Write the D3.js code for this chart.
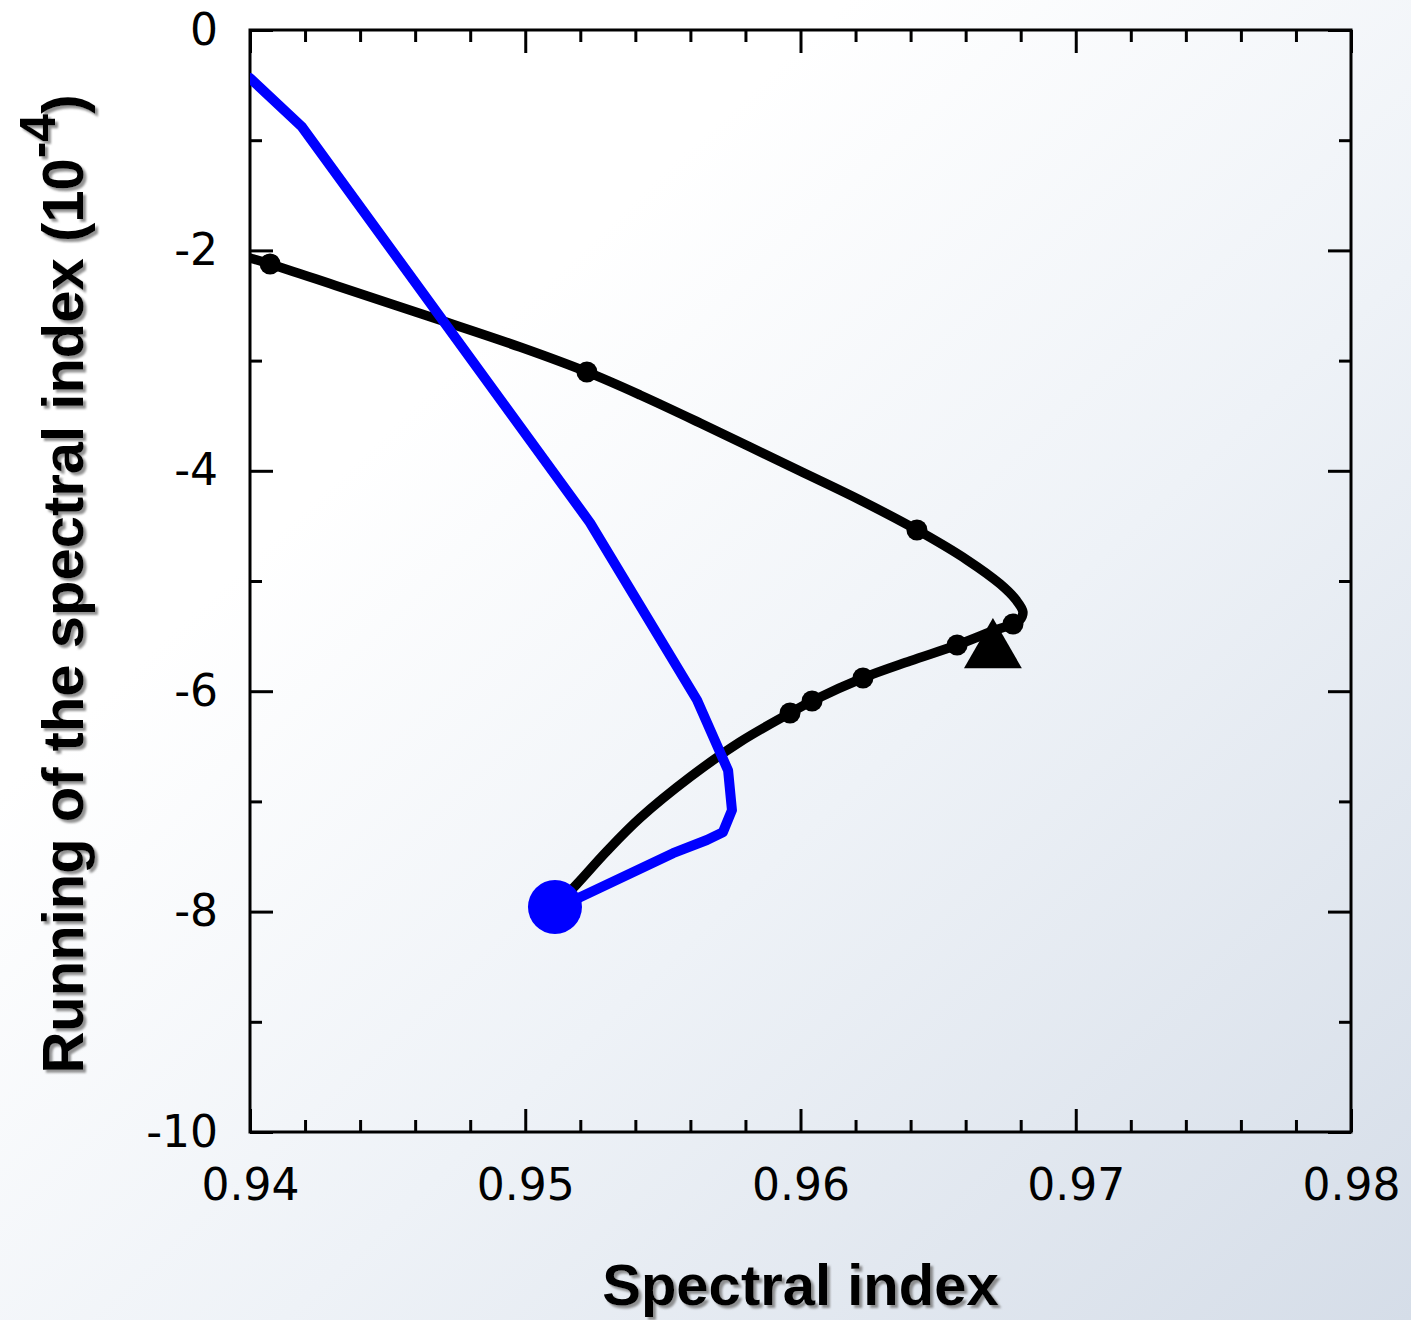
<!DOCTYPE html>
<html>
<head>
<meta charset="utf-8">
<script src="https://cdn.jsdelivr.net/npm/d3@7"></script>
<style>
  body { margin: 0; padding: 0; }
  svg { display: block; }
  .tick text { font-family: "DejaVu Sans", sans-serif; font-size: 44px; fill: #000; }
  .title { font-family: "Liberation Sans", Arial, sans-serif; font-weight: bold; font-size: 58px; fill: #000; }
</style>
</head>
<body>
<div id="chart"></div>
<script>

// tick values
var xMajorTicks = [0.94, 0.95, 0.96, 0.97, 0.98];
var xMinorTicks = [0.942, 0.944, 0.946, 0.948, 0.952, 0.954, 0.956, 0.958, 0.962, 0.964, 0.966, 0.968, 0.972, 0.974, 0.976, 0.978];
var yMajorTicks = [0, -2, -4, -6, -8, -10];
var yMinorTicks = [-1, -3, -5, -7, -9];

// black track (spectral index, running)
var blackX = [0.94000, 0.94073, 0.94327, 0.94690, 0.94981, 0.95224, 0.95417, 0.95635, 0.95998, 0.96216, 0.96423, 0.96605, 0.96725, 0.96783, 0.96808, 0.96797, 0.96772, 0.96699, 0.96569, 0.96398, 0.96227, 0.96042, 0.95962, 0.95780, 0.95599, 0.95417, 0.95297, 0.95188, 0.95108];
var blackY = [-2.069, -2.123, -2.332, -2.632, -2.877, -3.103, -3.312, -3.566, -4.002, -4.265, -4.537, -4.809, -5.027, -5.172, -5.281, -5.354, -5.390, -5.454, -5.581, -5.726, -5.880, -6.089, -6.198, -6.461, -6.779, -7.151, -7.450, -7.749, -7.958];

// small dots on the black track
var dotX = [0.94073, 0.95224, 0.96423, 0.96772, 0.96569, 0.96227, 0.96042, 0.95962];
var dotY = [-2.123, -3.103, -4.537, -5.390, -5.581, -5.880, -6.089, -6.198];

// blue track
var blueX = [0.94000, 0.94189, 0.95235, 0.95624, 0.95737, 0.95751, 0.95718, 0.95660, 0.95537, 0.95199, 0.95108];
var blueY = [-0.436, -0.880, -4.470, -6.080, -6.720, -7.080, -7.280, -7.350, -7.470, -7.870, -7.958];

// end points
var circlePoint = [0.95108, -7.958];
var trianglePoint = [0.96699, -5.64];

var W = 1411, H = 1320;
var margin = {top: 30, right: 60, bottom: 188, left: 250};
var width = W - margin.left - margin.right;
var height = H - margin.top - margin.bottom;

var svg = d3.select("#chart").append("svg")
    .attr("width", W)
    .attr("height", H);

var defs = svg.append("defs");
var grad = defs.append("linearGradient")
    .attr("id", "bg")
    .attr("x1", 0).attr("y1", 0).attr("x2", 1).attr("y2", 1);
grad.append("stop").attr("offset", "0").attr("stop-color", "#ffffff");
grad.append("stop").attr("offset", "0.3").attr("stop-color", "#ffffff");
grad.append("stop").attr("offset", "0.6").attr("stop-color", "#eef2f7");
grad.append("stop").attr("offset", "1").attr("stop-color", "#d5dde8");

var shadow = defs.append("filter").attr("id", "shadow")
    .attr("x", "-10%").attr("y", "-10%").attr("width", "130%").attr("height", "130%");
shadow.append("feDropShadow")
    .attr("dx", 3).attr("dy", 3)
    .attr("stdDeviation", 1.2)
    .attr("flood-color", "#777")
    .attr("flood-opacity", 0.8);

defs.append("clipPath").attr("id", "plotclip")
    .append("rect").attr("width", width).attr("height", height);

svg.append("rect")
    .attr("width", W).attr("height", H)
    .attr("fill", "url(#bg)");

var g = svg.append("g")
    .attr("transform", "translate(" + margin.left + "," + margin.top + ")");

var x = d3.scaleLinear().domain([0.94, 0.98]).range([0, width]);
var y = d3.scaleLinear().domain([-10, 0]).range([height, 0]);

var major = 23, minor = 12;

function styleAxis(sel) {
    sel.select(".domain").remove();
    sel.selectAll(".tick line").attr("stroke", "#000").attr("stroke-width", 3);
}

// bottom
g.append("g").attr("transform", "translate(0," + height + ")")
    .call(d3.axisBottom(x).tickValues(xMinorTicks).tickSize(-minor).tickFormat(""))
    .call(styleAxis);
var xb = g.append("g").attr("transform", "translate(0," + height + ")")
    .call(d3.axisBottom(x).tickValues(xMajorTicks).tickSize(-major).tickPadding(37).tickFormat(d3.format(".2f")))
    .call(styleAxis);
xb.selectAll(".tick text").attr("font-size", null).attr("font-family", null);

// top
g.append("g")
    .call(d3.axisTop(x).tickValues(xMinorTicks).tickSize(-minor).tickFormat(""))
    .call(styleAxis);
g.append("g")
    .call(d3.axisTop(x).tickValues(xMajorTicks).tickSize(-major).tickFormat(""))
    .call(styleAxis);

// left
g.append("g")
    .call(d3.axisLeft(y).tickValues(yMinorTicks).tickSize(-minor).tickFormat(""))
    .call(styleAxis);
var yl = g.append("g")
    .call(d3.axisLeft(y).tickValues(yMajorTicks).tickSize(-major).tickPadding(32).tickFormat(function(d) { return String(d); }))
    .call(styleAxis);
yl.selectAll(".tick text").attr("font-size", null).attr("font-family", null);

// right
g.append("g").attr("transform", "translate(" + width + ",0)")
    .call(d3.axisRight(y).tickValues(yMinorTicks).tickSize(-minor).tickFormat(""))
    .call(styleAxis);
g.append("g").attr("transform", "translate(" + width + ",0)")
    .call(d3.axisRight(y).tickValues(yMajorTicks).tickSize(-major).tickFormat(""))
    .call(styleAxis);

// frame
g.append("rect")
    .attr("width", width).attr("height", height)
    .attr("fill", "none").attr("stroke", "#000").attr("stroke-width", 3);

var plot = g.append("g").attr("clip-path", "url(#plotclip)");

var line = d3.line()
    .x(function(d) { return x(d[0]); })
    .y(function(d) { return y(d[1]); });

var blackData = d3.zip(blackX, blackY);
var blueData = d3.zip(blueX, blueY);
var dotData = d3.zip(dotX, dotY);

plot.append("path")
    .datum(blackData)
    .attr("d", line.curve(d3.curveCatmullRom.alpha(0.5)))
    .attr("fill", "none").attr("stroke", "#000")
    .attr("stroke-width", 9.5).attr("stroke-linecap", "round").attr("stroke-linejoin", "round");

plot.selectAll(".dot")
    .data(dotData)
    .enter().append("circle")
    .attr("class", "dot")
    .attr("cx", function(d) { return x(d[0]); })
    .attr("cy", function(d) { return y(d[1]); })
    .attr("r", 10.5)
    .attr("fill", "#000");

plot.append("path")
    .datum(trianglePoint)
    .attr("transform", function(d) { return "translate(" + x(d[0]) + "," + y(d[1]) + ")"; })
    .attr("d", d3.symbol().type(d3.symbolTriangle).size(1450))
    .attr("fill", "#000");

plot.append("path")
    .datum(blueData)
    .attr("d", line.curve(d3.curveLinear))
    .attr("fill", "none").attr("stroke", "#0000ff")
    .attr("stroke-width", 10).attr("stroke-linecap", "round").attr("stroke-linejoin", "round");

plot.append("circle")
    .attr("cx", x(circlePoint[0]))
    .attr("cy", y(circlePoint[1]))
    .attr("r", 27)
    .attr("fill", "#0000ff");

// axis titles
svg.append("g").attr("filter", "url(#shadow)")
    .append("text")
    .attr("class", "title")
    .attr("x", margin.left + width / 2)
    .attr("y", 1305)
    .attr("text-anchor", "middle")
    .text("Spectral index");

var yt = svg.append("g").attr("filter", "url(#shadow)")
    .append("text")
    .attr("class", "title")
    .attr("font-size", "59px")
    .attr("transform", "translate(83,584) rotate(-90)")
    .attr("text-anchor", "middle");
yt.append("tspan").text("Running of the spectral index (10");
yt.append("tspan").attr("baseline-shift", "super").attr("font-size", "50px").text("-4");
yt.append("tspan").text(")");

</script>
</body>
</html>
